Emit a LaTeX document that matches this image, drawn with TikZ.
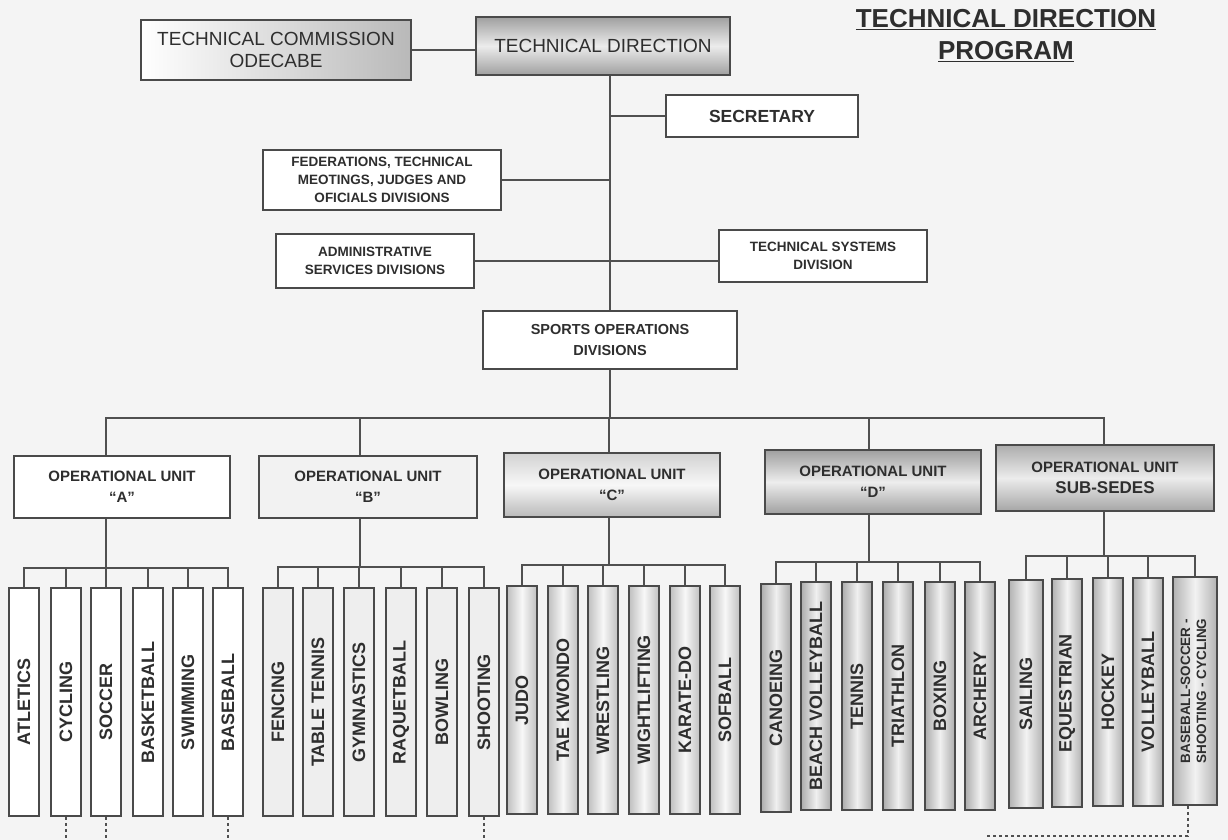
\documentclass[tikz,border=0pt]{standalone}
\usepackage{fontspec}
\setmainfont{Liberation Sans}
\usetikzlibrary{calc}
\definecolor{bg}{HTML}{F4F4F4}
\definecolor{ln}{HTML}{505050}
\definecolor{bd}{HTML}{4A4A4A}
\definecolor{tx}{HTML}{2E2E2E}
\newcommand\fsz[2]{\fontsize{#1}{#2}\selectfont}
\tikzset{
  box/.style={draw=bd, line width=1.8pt, inner sep=1pt, align=center, text=tx},
  sport/.style={box, minimum width=30pt, minimum height=228pt, inner sep=0pt, font=\bfseries\fsz{18}{21}},
  sA/.style={sport, fill=white},
  sB/.style={sport, fill=gray!13},
  sC/.style={sport, left color=gray!50, right color=gray!50, middle color=gray!6},
  sD/.style={sport, left color=gray!65, right color=gray!65, middle color=gray!12},
  sS/.style={sport, left color=gray!60, right color=gray!60, middle color=gray!10},
  unit/.style={box, minimum width=216pt, minimum height=62pt, font=\bfseries\fsz{15}{21}},
  small/.style={box, font=\bfseries\fsz{13.5}{18}},
  conn/.style={draw=ln, line width=1.6pt},
  dl/.style={draw=ln, line width=1.2pt, dash pattern=on 3pt off 3pt}
}
\begin{document}
\begin{tikzpicture}[x=1pt,y=-1pt]
\useasboundingbox (0,0) rectangle (1228,840);
\fill[bg] (0,0) rectangle (1228,840);

% title
\node[text=tx, font=\bfseries\fsz{26}{32}, align=center] (title) at (1006,36)
  {\underline{TECHNICAL DIRECTION}\\\underline{PROGRAM}};

% top level
\node[box, minimum width=270pt, minimum height=60pt, left color=white, right color=gray!55, font=\fsz{19}{22}] (TC) at (276,50) {TECHNICAL COMMISSION\\ODECABE};
\node[box, minimum width=254pt, minimum height=58pt, top color=gray!75, bottom color=gray!75, middle color=gray!15, font=\fsz{19}{22}] (TD) at (603,46) {TECHNICAL DIRECTION};
\node[box, minimum width=192pt, minimum height=42pt, fill=white, font=\bfseries\fsz{17.5}{20}] (SEC) at (762,116) {SECRETARY};
\node[small, minimum width=238pt, minimum height=60pt, fill=white] (FED) at (382,180) {FEDERATIONS, TECHNICAL\\MEOTINGS, JUDGES AND\\OFICIALS DIVISIONS};
\node[small, minimum width=198pt, minimum height=54pt, fill=white] (ADM) at (375,261) {ADMINISTRATIVE\\SERVICES DIVISIONS};
\node[small, minimum width=208pt, minimum height=52pt, fill=white] (TSD) at (823,256) {TECHNICAL SYSTEMS\\DIVISION};
\node[small, minimum width=254pt, minimum height=58pt, fill=white, font=\bfseries\fsz{14.5}{21}] (SO) at (610,340) {SPORTS OPERATIONS\\DIVISIONS};

% units
\node[unit, fill=white] (UA) at (122,487) {OPERATIONAL UNIT\\“A”};
\node[unit, minimum width=218pt, fill=gray!10] (UB) at (368,487) {OPERATIONAL UNIT\\“B”};
\node[unit, minimum width=216pt, minimum height=64pt, top color=gray!35, bottom color=gray!55, middle color=gray!6] (UC) at (612,485) {OPERATIONAL UNIT\\“C”};
\node[unit, minimum height=64pt, top color=gray!75, bottom color=gray!75, middle color=gray!14] (UD) at (873,482) {OPERATIONAL UNIT\\“D”};
\node[unit, minimum width=218pt, minimum height=66pt, top color=gray!65, bottom color=gray!70, middle color=gray!15] (US) at (1105,478) {OPERATIONAL UNIT\\{\fsz{17}{21}SUB-SEDES}};

% sports A
\node[sA] (A1) at (24,702) {\rotatebox{90}{ATLETICS}};
\node[sA] (A2) at (66,702) {\rotatebox{90}{CYCLING}};
\node[sA] (A3) at (106,702) {\rotatebox{90}{SOCCER}};
\node[sA] (A4) at (148,702) {\rotatebox{90}{BASKETBALL}};
\node[sA] (A5) at (188,702) {\rotatebox{90}{SWIMMING}};
\node[sA] (A6) at (228,702) {\rotatebox{90}{BASEBALL}};
% sports B
\node[sB] (B1) at (278,702) {\rotatebox{90}{FENCING}};
\node[sB] (B2) at (318,702) {\rotatebox{90}{TABLE TENNIS}};
\node[sB] (B3) at (359,702) {\rotatebox{90}{GYMNASTICS}};
\node[sB] (B4) at (401,702) {\rotatebox{90}{RAQUETBALL}};
\node[sB] (B5) at (442,702) {\rotatebox{90}{BOWLING}};
\node[sB] (B6) at (484,702) {\rotatebox{90}{SHOOTING}};
% sports C
\node[sC] (C1) at (522,700) {\rotatebox{90}{JUDO}};
\node[sC] (C2) at (563,700) {\rotatebox{90}{TAE KWONDO}};
\node[sC] (C3) at (603,700) {\rotatebox{90}{WRESTLING}};
\node[sC] (C4) at (644,700) {\rotatebox{90}{WIGHTLIFTING}};
\node[sC] (C5) at (685,700) {\rotatebox{90}{KARATE-DO}};
\node[sC] (C6) at (725,700) {\rotatebox{90}{SOFBALL}};
% sports D
\node[sD] (D1) at (776,698) {\rotatebox{90}{CANOEING}};
\node[sD] (D2) at (816,696) {\rotatebox{90}{BEACH VOLLEYBALL}};
\node[sD] (D3) at (857,696) {\rotatebox{90}{TENNIS}};
\node[sD] (D4) at (898,696) {\rotatebox{90}{TRIATHLON}};
\node[sD] (D5) at (940,696) {\rotatebox{90}{BOXING}};
\node[sD] (D6) at (980,696) {\rotatebox{90}{ARCHERY}};
% sports sub-sedes
\node[sS, minimum width=34pt] (S1) at (1026,694) {\rotatebox{90}{SAILING}};
\node[sS] (S2) at (1067,693) {\rotatebox{90}{EQUESTRIAN}};
\node[sS] (S3) at (1108,692) {\rotatebox{90}{HOCKEY}};
\node[sS] (S4) at (1148,692) {\rotatebox{90}{VOLLEYBALL}};
\node[sS, minimum width=44pt] (S5) at (1195,691) {\rotatebox{90}{\fsz{13.5}{16}\begin{tabular}{@{}c@{}}BASEBALL-SOCCER -\\SHOOTING - CYCLING\end{tabular}}};

% coordinates
\coordinate (bus) at (610,418);
\coordinate (xA) at (106,568);
\coordinate (xB) at (360,567);
\coordinate (xC) at (609,565);
\coordinate (xD) at (869,562);
\coordinate (xS) at (1104,556);
\coordinate (bot) at (0,840);
\coordinate (bbs) at (1188,836);
\coordinate (dend) at (985,836);

% upper connectors
\draw[conn] (TC.east) -- (TC.east -| TD.west);
\draw[conn] (TD.south -| SO.north) -- (SO.north);
\draw[conn] (SEC.west) -- (SEC.west -| SO.north);
\draw[conn] (FED.east) -- (FED.east -| SO.north);
\draw[conn] (ADM.east) -- (ADM.east -| TSD.west);
\draw[conn] (SO.south) -- (bus);
\draw[conn] (UA.north -| xA) |- (bus) -| (US.north -| xS);
\draw[conn] (UB.north -| xB) -- (bus -| xB);
\draw[conn] (UC.north -| xC) -- (bus -| xC);
\draw[conn] (UD.north -| xD) -- (bus -| xD);

% unit drops
\draw[conn] (UA.south -| xA) -- (xA);
\draw[conn] (UB.south -| xB) -- (xB);
\draw[conn] (UC.south -| xC) -- (xC);
\draw[conn] (UD.south -| xD) -- (xD);
\draw[conn] (US.south -| xS) -- (xS);

% child buses
\draw[conn] (A1.north) |- (xA) -| (A6.north);
\foreach \n in {A2,A3,A4,A5} \draw[conn] (\n.north) -- (\n.north |- xA);
\draw[conn] (B1.north) |- (xB) -| (B6.north);
\foreach \n in {B2,B3,B4,B5} \draw[conn] (\n.north) -- (\n.north |- xB);
\draw[conn] (C1.north) |- (xC) -| (C6.north);
\foreach \n in {C2,C3,C4,C5} \draw[conn] (\n.north) -- (\n.north |- xC);
\draw[conn] (D1.north) |- (xD) -| (D6.north);
\foreach \n in {D2,D3,D4,D5} \draw[conn] (\n.north) -- (\n.north |- xD);
\draw[conn] (S1.north) |- (xS) -| (S5.north);
\foreach \n in {S2,S3,S4} \draw[conn] (\n.north) -- (\n.north |- xS);

% dashed links at the bottom
\foreach \n in {A2,A3,A6,B6} \draw[dl] (\n.south) -- (\n.south |- bot);
\draw[dl] (S5.south -| bbs) -- (bbs) -- (dend);
\end{tikzpicture}
\end{document}
